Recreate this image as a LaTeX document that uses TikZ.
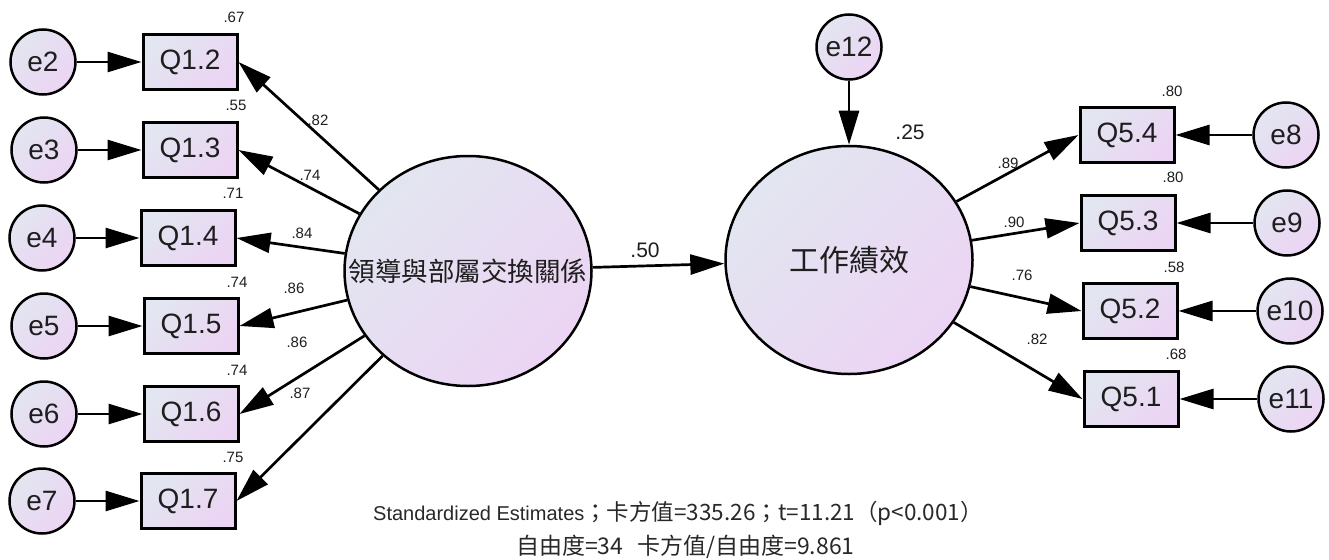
\documentclass[tikz,border=0pt]{standalone}
\usepackage{fontspec}
\setmainfont{Liberation Sans}
\newfontfamily\cjk{Noto Sans CJK TC}
\usetikzlibrary{arrows.meta,shapes.geometric}
\definecolor{ca}{RGB}{226,230,240}
\definecolor{cb}{RGB}{236,212,244}
\definecolor{ink}{RGB}{30,30,30}
\begin{document}
\begin{tikzpicture}[x=1pt,y=-1pt,
 fillgrad/.style={top color=ca,bottom color=cb,shading angle=45},
 obs/.style={draw, line width=3pt, rectangle, minimum width=94pt, minimum height=55pt, inner sep=0pt, fillgrad, text=ink, font=\fontsize{28}{28}\selectfont},
 err/.style={draw, line width=2.5pt, circle, minimum size=65pt, inner sep=0pt, fillgrad, text=ink, font=\fontsize{28}{28}\selectfont},
 lat/.style={draw, line width=2.5pt, ellipse, inner sep=0pt, fillgrad, text=ink},
 conn/.style={line width=2.7pt, -{Triangle[length=34pt,width=20pt]}},
 sm/.style={font=\fontsize{15}{15}\selectfont, inner sep=0pt, text=ink},
 md/.style={font=\fontsize{21}{21}\selectfont, inner sep=0pt, text=ink}]
\useasboundingbox (0,0) rectangle (1329,559);

% latent variables
\node[lat, minimum width=247pt, minimum height=230pt,
  label={[text=ink]center:\cjk\fontsize{26.5}{26.5}\selectfont 領導與部屬交換關係}] (F1) at (468,271) {};
\node[lat, minimum width=247pt, minimum height=228pt,
  label={[text=ink]center:\cjk\fontsize{30}{30}\selectfont 工作績效}] (F2) at (849,260) {};
\node[err] (e12) at (849,47) {e12};

% left indicators
\node[obs] (Q12) at (190,62) {Q1.2};
\node[obs] (Q13) at (190,150) {Q1.3};
\node[obs] (Q14) at (188,238) {Q1.4};
\node[obs] (Q15) at (191,326) {Q1.5};
\node[obs] (Q16) at (191,414) {Q1.6};
\node[obs] (Q17) at (188,501) {Q1.7};

\node[err] (e2) at (43,62) {e2};
\node[err] (e3) at (44,150) {e3};
\node[err] (e4) at (42,238) {e4};
\node[err] (e5) at (44,326) {e5};
\node[err] (e6) at (44,414) {e6};
\node[err] (e7) at (42,501) {e7};

% right indicators
\node[obs] (Q54) at (1127,135) {Q5.4};
\node[obs] (Q53) at (1128,223) {Q5.3};
\node[obs] (Q52) at (1130,311) {Q5.2};
\node[obs] (Q51) at (1131,399) {Q5.1};

\node[err] (e8) at (1286,135) {e8};
\node[err] (e9) at (1287,223) {e9};
\node[err] (e10) at (1290,311) {e10};
\node[err] (e11) at (1291,399) {e11};

% connectors
\foreach \e/\q in {e2/Q12,e3/Q13,e4/Q14,e5/Q15,e6/Q16,e7/Q17}
  \draw[conn] (\e) -- (\q);
\foreach \q in {Q12,Q13,Q14,Q15,Q16,Q17}
  \draw[conn] (F1) -- (\q.east);
\foreach \e/\q in {e8/Q54,e9/Q53,e10/Q52,e11/Q51}
  \draw[conn] (\e) -- (\q);
\foreach \q in {Q54,Q53,Q52,Q51}
  \draw[conn] (F2) -- (\q.west);
\draw[conn] (F1) -- (F2);
\draw[conn] (e12) -- (F2);

% squared multiple correlations
\node[sm] (r12) at (234,17) {.67};
\node[sm] (r13) at (236,105) {.55};
\node[sm] (r14) at (233,193) {.71};
\node[sm] (r15) at (237,282) {.74};
\node[sm] (r16) at (237,370) {.74};
\node[sm] (r17) at (233,457) {.75};
\node[sm] (r54) at (1172,91) {.80};
\node[sm] (r53) at (1173,177) {.80};
\node[sm] (r52) at (1174,267) {.58};
\node[sm] (r51) at (1176,354) {.68};
\node[md] (r2) at (910,132) {.25};

% loadings
\node[sm] (l12) at (318,120) {.82};
\node[sm] (l13) at (310,175) {.74};
\node[sm] (l14) at (302,233) {.84};
\node[sm] (l15) at (294,288) {.86};
\node[sm] (l16) at (297,342) {.86};
\node[sm] (l17) at (300,393) {.87};
\node[sm] (l54) at (1008,163) {.89};
\node[sm] (l53) at (1014,222) {.90};
\node[sm] (l52) at (1022,275) {.76};
\node[sm] (l51) at (1037,339) {.82};
\node[md] (b) at (645,250) {.50};

% note
\node[anchor=west, inner sep=0pt, text={rgb,255:red,40;green,40;blue,40}] (note1) at (373,513)
  {{\fontsize{20}{20}\selectfont Standardized Estimates}{\cjk\fontsize{22.5}{22.5}\selectfont ；卡方值=335.26；t=11.21（p<0.001）}};
\node[anchor=west, inner sep=0pt, text={rgb,255:red,40;green,40;blue,40}] (note2) at (516,547)
  {\cjk\fontsize{23}{23}\selectfont 自由度=34\hspace{0.6em}卡方值/自由度=9.861};
\end{tikzpicture}
\end{document}
